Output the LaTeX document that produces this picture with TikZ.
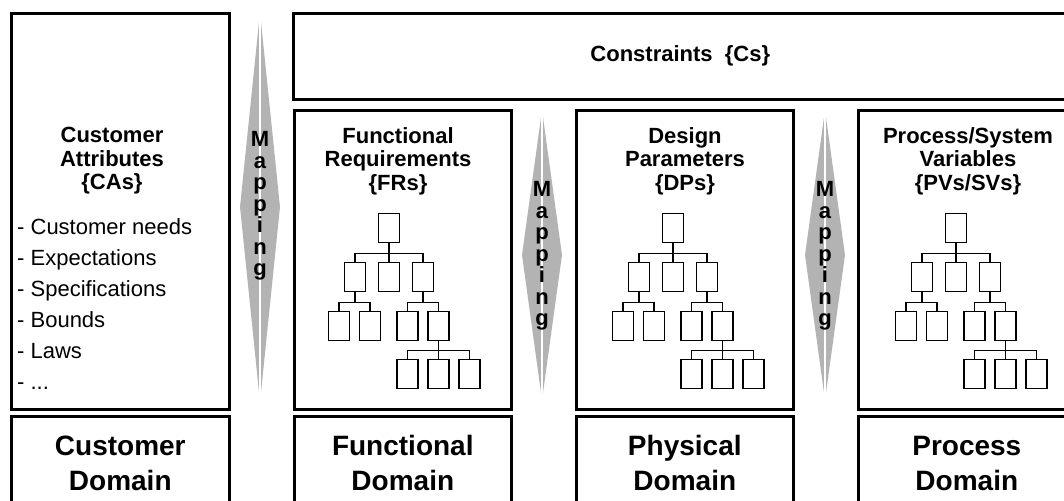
\documentclass[tikz,border=0pt]{standalone}
\usepackage{fontspec}
\setmainfont{Liberation Sans}
\definecolor{gris}{RGB}{179,179,179}

% arbre de boîtes : #1,#2 = haut de la racine, #3 = préfixe des noms
\newcommand{\arbre}[3]{%
  \begin{scope}[shift={(#1,#2)}]
    \node[feuille] (#3r)  at (0,0) {};
    \node[feuille] (#3a1) at (-34,49) {};
    \node[feuille] (#3a2) at (0,49) {};
    \node[feuille] (#3a3) at (34,49) {};
    \node[feuille] (#3b1) at (-50,98) {};
    \node[feuille] (#3b2) at (-19,98) {};
    \node[feuille] (#3b3) at (18.5,98) {};
    \node[feuille] (#3b4) at (49.5,98) {};
    \node[feuille] (#3c1) at (18.5,146) {};
    \node[feuille] (#3c2) at (49.5,146) {};
    \node[feuille] (#3c3) at (80.5,146) {};
    \draw[lien] (#3r.south) -- ++(0,10) -| (#3a1.north);
    \draw[lien] (#3r.south) -- ++(0,10) -| (#3a2.north);
    \draw[lien] (#3r.south) -- ++(0,10) -| (#3a3.north);
    \draw[lien] (#3a1.south) -- ++(0,10) -| (#3b1.north);
    \draw[lien] (#3a1.south) -- ++(0,10) -| (#3b2.north);
    \draw[lien] (#3a3.south) -- ++(0,10) -| (#3b3.north);
    \draw[lien] (#3a3.south) -- ++(0,10) -| (#3b4.north);
    \draw[lien] (#3b4.south) -- ++(0,9.5) -| (#3c1.north);
    \draw[lien] (#3b4.south) -- ++(0,9.5) -| (#3c2.north);
    \draw[lien] (#3b4.south) -- ++(0,9.5) -| (#3c3.north);
  \end{scope}}

\begin{document}
\begin{tikzpicture}[x=1pt,y=-1pt]
\tikzset{
  cadre/.style={draw, line width=2.6pt, inner sep=0pt, anchor=north west},
  feuille/.style={draw, line width=1.1pt, minimum width=21pt, minimum height=29pt, inner sep=0pt, anchor=north},
  lien/.style={line width=1.1pt},
  titre/.style={font=\fontsize{22}{23.5}\selectfont\bfseries, align=center},
  domaine/.style={font=\fontsize{28}{35}\selectfont\bfseries, align=center},
  lettres/.style={font=\fontsize{22}{21.5}\selectfont\bfseries, align=center}
}
  \useasboundingbox (0,0) rectangle (1064,500);
  \clip (0,0) rectangle (1064,500);

  % flèches "Mapping"
  \fill[gris] (260,12) -- (280,207) -- (260,402) -- (240,207) -- cycle;
  \draw[white, line width=1.8pt] (260,12) -- (260,402);
  \fill[gris] (542,110) -- (562,255) -- (542,400) -- (522,255) -- cycle;
  \draw[white, line width=1.8pt] (542,110) -- (542,400);
  \fill[gris] (825,110) -- (845,255) -- (825,400) -- (805,255) -- cycle;
  \draw[white, line width=1.8pt] (825,110) -- (825,400);
  \node[lettres] (m1) at (260,206) {M\\a\\p\\p\\i\\n\\g};
  \node[lettres] (m2) at (542,256) {M\\a\\p\\p\\i\\n\\g};
  \node[lettres] (m3) at (825,256) {M\\a\\p\\p\\i\\n\\g};

  % les cadres
  \node[cadre, minimum width=218, minimum height=396] (ca) at (10,12) {};
  \node[cadre, minimum width=774, minimum height=86, font=\fontsize{22}{24}\selectfont\bfseries] (cs) at (292,12) {Constraints\ \ \{Cs\}};
  \node[cadre, minimum width=217, minimum height=299] (fr) at (293,109) {};
  \node[cadre, minimum width=217, minimum height=299] (dp) at (575,109) {};
  \node[cadre, minimum width=217, minimum height=299] (pv) at (857,109) {};

  % les domaines
  \node[cadre, domaine, minimum width=218, minimum height=94] (dca) at (10,415) {Customer\\Domain};
  \node[cadre, domaine, minimum width=217, minimum height=94] (dfr) at (293,415) {Functional\\Domain};
  \node[cadre, domaine, minimum width=217, minimum height=94] (ddp) at (575,415) {Physical\\Domain};
  \node[cadre, domaine, minimum width=217, minimum height=94] (dpv) at (857,415) {Process\\Domain};

  % du texte
  \node[titre] (tca) at (112,161) {Customer\\Attributes\\\{CAs\}};
  \node[titre] (tfr) at (398,161) {Functional\\Requirements\\\{FRs\}};
  \node[titre] (tdp) at (685,161) {Design\\Parameters\\\{DPs\}};
  \node[titre] (tpv) at (968,161) {Process/System\\Variables\\\{PVs/SVs\}};
  \node[font=\fontsize{22}{31}\selectfont, align=left, anchor=north west, inner sep=0pt] (lca) at (17,218)
    {- Customer needs\\- Expectations\\- Specifications\\- Bounds\\- Laws\\- ...};

  % les arbres
  \arbre{389}{213}{fr}
  \arbre{673}{213}{dp}
  \arbre{956}{213}{pv}
\end{tikzpicture}
\end{document}
